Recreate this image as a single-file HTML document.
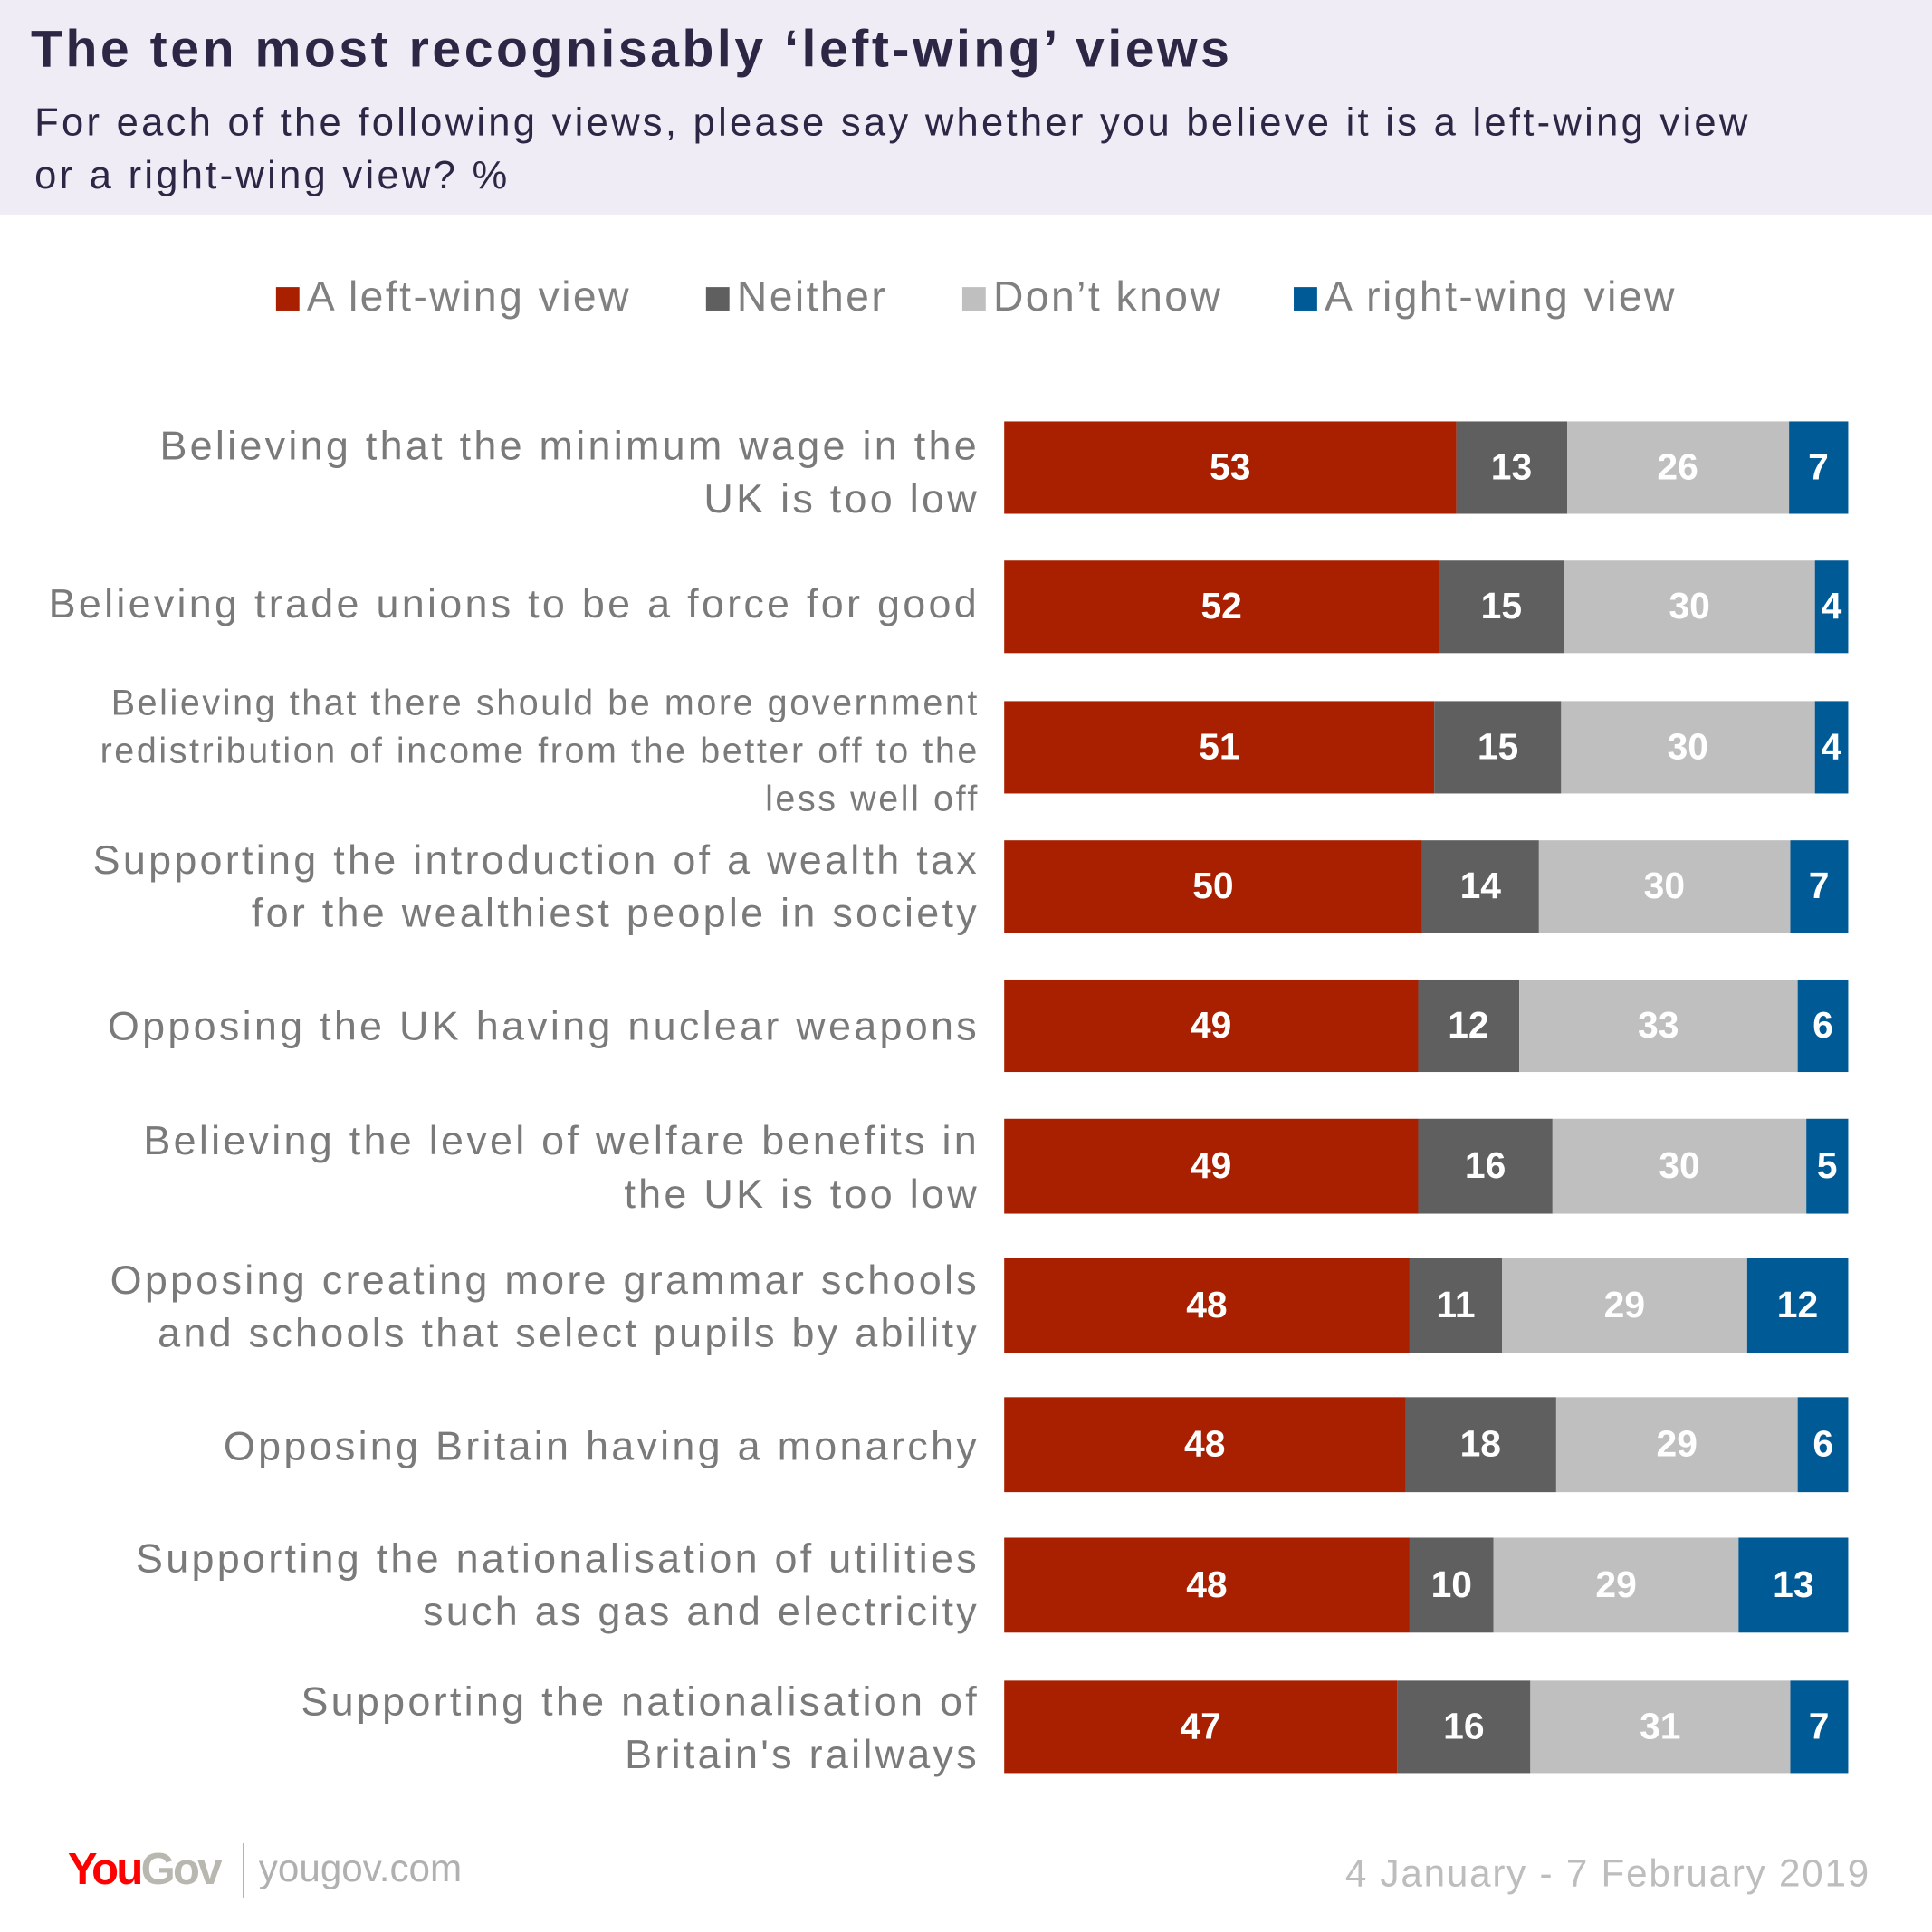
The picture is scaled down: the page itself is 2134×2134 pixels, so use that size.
<!DOCTYPE html>
<html><head><meta charset="utf-8"><style>
html,body{margin:0;padding:0;background:#fff;}
body{width:2134px;height:2134px;overflow:hidden;}
#w{width:1568px;height:1568px;position:relative;transform:scale(1.36097);transform-origin:0 0;font-family:"Liberation Sans",sans-serif;}
.hdr{position:absolute;left:0;top:0;width:1568px;height:174px;background:#efecf5;}
.t{position:absolute;left:25px;top:16px;font-size:42px;font-weight:bold;color:#2d2645;letter-spacing:2.6px;}
.s{position:absolute;left:28px;top:78px;font-size:32px;line-height:43px;color:#2d2645;letter-spacing:2.4px;}
.lg{position:absolute;top:222px;font-size:34px;color:#808080;letter-spacing:1.8px;}
.lg i{display:inline-block;width:19px;height:19px;margin-right:6px;vertical-align:0px;}
.row{position:absolute;left:815px;width:685px;height:75px;display:flex;}
.row div{height:100%;display:flex;align-items:center;justify-content:center;color:#fff;font-weight:bold;font-size:30px;}
.r{background:#a82000}.n{background:#5f5f5f}.d{background:#bfbfbf}.b{background:#005a96}
.lab{position:absolute;right:773px;text-align:right;font-size:33px;line-height:43px;color:#7a7a7a;white-space:nowrap;letter-spacing:2.4px;}
</style></head><body><div id="w">
<div class="hdr"></div>
<div class="t">The ten most recognisably ‘left-wing’ views</div>
<div class="s">For each of the following views, please say whether you believe it is a left-wing view<br>or a right-wing view? %</div>
<div class="lg" style="left:224px"><i class="r"></i>A left-wing view</div>
<div class="lg" style="left:573px"><i class="n"></i>Neither</div>
<div class="lg" style="left:781px"><i class="d"></i>Don’t know</div>
<div class="lg" style="left:1050px"><i class="b"></i>A right-wing view</div>

<div class="lab" style="top:340px">Believing that the minimum wage in the<br>UK is too low</div>
<div class="row" style="top:342px"><div class="r" style="flex:53">53</div><div class="n" style="flex:13">13</div><div class="d" style="flex:26">26</div><div class="b" style="flex:7">7</div></div>

<div class="lab" style="top:468px">Believing trade unions to be a force for good</div>
<div class="row" style="top:455px"><div class="r" style="flex:52">52</div><div class="n" style="flex:15">15</div><div class="d" style="flex:30">30</div><div class="b" style="flex:4">4</div></div>

<div class="lab" style="top:552px;font-size:29px;line-height:39px;letter-spacing:1.9px">Believing that there should be more government<br>redistribution of income from the better off to the<br>less well off</div>
<div class="row" style="top:569px"><div class="r" style="flex:51">51</div><div class="n" style="flex:15">15</div><div class="d" style="flex:30">30</div><div class="b" style="flex:4">4</div></div>

<div class="lab" style="top:676px">Supporting the introduction of a wealth tax<br>for the wealthiest people in society</div>
<div class="row" style="top:682px"><div class="r" style="flex:50">50</div><div class="n" style="flex:14">14</div><div class="d" style="flex:30">30</div><div class="b" style="flex:7">7</div></div>

<div class="lab" style="top:811px">Opposing the UK having nuclear weapons</div>
<div class="row" style="top:795px"><div class="r" style="flex:49">49</div><div class="n" style="flex:12">12</div><div class="d" style="flex:33">33</div><div class="b" style="flex:6">6</div></div>

<div class="lab" style="top:904px">Believing the level of welfare benefits in<br>the UK is too low</div>
<div class="row" style="top:908px;height:77px"><div class="r" style="flex:49">49</div><div class="n" style="flex:16">16</div><div class="d" style="flex:30">30</div><div class="b" style="flex:5">5</div></div>

<div class="lab" style="top:1017px">Opposing creating more grammar schools<br>and schools that select pupils by ability</div>
<div class="row" style="top:1021px;height:77px"><div class="r" style="flex:48">48</div><div class="n" style="flex:11">11</div><div class="d" style="flex:29">29</div><div class="b" style="flex:12">12</div></div>

<div class="lab" style="top:1152px">Opposing Britain having a monarchy</div>
<div class="row" style="top:1134px;height:77px"><div class="r" style="flex:48">48</div><div class="n" style="flex:18">18</div><div class="d" style="flex:29">29</div><div class="b" style="flex:6">6</div></div>

<div class="lab" style="top:1243px">Supporting the nationalisation of utilities<br>such as gas and electricity</div>
<div class="row" style="top:1248px;height:77px"><div class="r" style="flex:48">48</div><div class="n" style="flex:10">10</div><div class="d" style="flex:29">29</div><div class="b" style="flex:13">13</div></div>

<div class="lab" style="top:1359px">Supporting the nationalisation of<br>Britain's railways</div>
<div class="row" style="top:1364px"><div class="r" style="flex:47">47</div><div class="n" style="flex:16">16</div><div class="d" style="flex:31">31</div><div class="b" style="flex:7">7</div></div>

<div style="position:absolute;left:55px;top:1496px;font-size:36px;font-weight:bold;letter-spacing:-2px"><span style="color:#ff0000">You</span><span style="color:#b8b8b0">Gov</span></div>
<div style="position:absolute;left:197px;top:1496px;width:1px;height:44px;background:#aaa"></div>
<div style="position:absolute;left:210px;top:1499px;font-size:31px;color:#b0b0b0">yougov.com</div>
<div style="position:absolute;right:50px;top:1503px;font-size:31px;color:#bdbdbd;letter-spacing:1.3px">4 January - 7 February 2019</div>
</div></body></html>
